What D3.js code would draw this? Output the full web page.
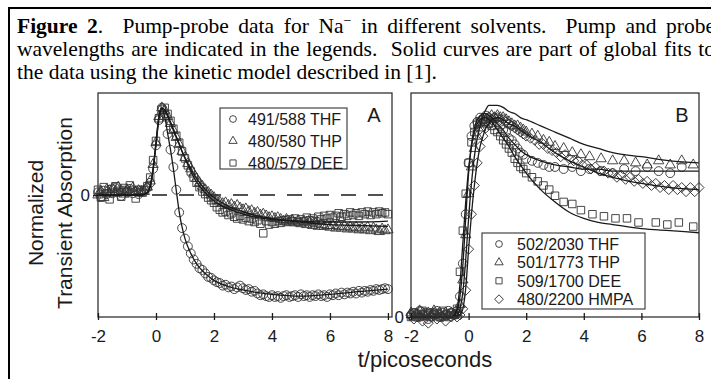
<!DOCTYPE html>
<html><head><meta charset="utf-8">
<script src="https://cdn.jsdelivr.net/npm/d3@7"></script>
<style>body{margin:0;background:#fff;} svg{display:block;}</style>
</head><body><svg id="c" width="711" height="379"></svg>
<script>
// ---------------- DATA ----------------
const xTicks = [-2, 0, 2, 4, 6, 8];
const yTicksA = [0];
const yTicksB = [0];

// Panel A (shared time grid, ps)
const tA = [-2.0,-1.9,-1.8,-1.7,-1.6,-1.5,-1.4,-1.3,-1.2,-1.1,-1.0,-0.9,-0.8,-0.7,-0.6,-0.5,-0.4,-0.3,-0.2,-0.1,
  0.0,0.1,0.2,0.3,0.4,0.5,0.6,0.7,0.8,0.9,1.0,1.1,1.2,1.3,1.4,1.5,1.6,1.7,1.8,1.9,2.0,2.1,2.2,2.3,2.4,2.5,2.6,2.7,2.8,2.9,
  3.0,3.1,3.2,3.3,3.4,3.5,3.6,3.7,3.8,3.9,4.0,4.1,4.2,4.3,4.4,4.5,4.6,4.7,4.8,4.9,5.0,5.1,5.2,5.3,5.4,5.5,5.6,5.7,5.8,5.9,
  6.0,6.1,6.2,6.3,6.4,6.5,6.6,6.7,6.8,6.9,7.0,7.1,7.2,7.3,7.4,7.5,7.6,7.7,7.8,7.9,8.0];
const thfA = [0.03,-0.02,0.05,0.01,0.06,0.02,0.08,0.04,-0.01,0.05,0.03,0.07,0.02,0.04,0.01,0.05,
  0.05,0.08,0.14,0.30,
  0.57,0.86,1.00,0.90,0.70,0.52,0.32,0.06,-0.20,-0.38,
  -0.50,-0.59,-0.67,-0.74,-0.79,-0.84,-0.86,-0.90,-0.94,-0.95,
  -0.98,-1.00,-1.01,-1.04,-1.03,-1.06,-1.05,-1.08,-1.06,-1.04,
  -1.07,-1.09,-1.08,-1.11,-1.10,-1.13,-1.15,-1.14,-1.16,-1.17,
  -1.15,-1.17,-1.16,-1.18,-1.16,-1.15,-1.17,-1.16,-1.15,-1.17,
  -1.14,-1.16,-1.15,-1.17,-1.15,-1.16,-1.14,-1.16,-1.15,-1.17,
  -1.14,-1.15,-1.13,-1.15,-1.12,-1.14,-1.12,-1.13,-1.11,-1.13,
  -1.10,-1.12,-1.10,-1.11,-1.09,-1.10,-1.08,-1.09,-1.08,-1.07,
  -1.08];
const thpA = [0.00,0.04,-0.03,0.06,0.02,0.07,0.03,0.09,0.05,0.01,0.06,0.04,0.08,0.03,0.05,0.02,
  0.04,0.09,0.16,0.35,
  0.60,0.90,1.00,0.97,0.90,0.82,0.74,0.66,0.58,0.50,
  0.43,0.36,0.30,0.24,0.19,0.14,0.10,0.06,0.03,0.00,
  -0.03,-0.06,-0.08,-0.10,-0.09,-0.12,-0.11,-0.14,-0.12,-0.15,
  -0.17,-0.16,-0.19,-0.18,-0.21,-0.20,-0.23,-0.22,-0.24,-0.26,
  -0.25,-0.27,-0.26,-0.28,-0.30,-0.28,-0.31,-0.29,-0.32,-0.30,
  -0.33,-0.31,-0.34,-0.32,-0.35,-0.33,-0.36,-0.34,-0.36,-0.35,
  -0.37,-0.35,-0.38,-0.36,-0.38,-0.36,-0.39,-0.37,-0.39,-0.37,
  -0.40,-0.38,-0.40,-0.37,-0.41,-0.38,-0.40,-0.42,-0.39,-0.41,
  -0.40];
const deeA = [0.06,-0.03,0.09,0.02,-0.05,0.07,0.10,0.03,-0.02,0.08,0.04,0.11,0.05,-0.04,0.06,0.03,
  0.06,0.10,0.20,0.40,
  0.62,0.88,0.98,1.00,0.93,0.85,0.76,0.68,0.60,0.50,
  0.42,0.34,0.27,0.20,0.14,0.09,0.04,0.01,-0.03,-0.06,
  -0.09,-0.14,-0.17,-0.20,-0.19,-0.23,-0.21,-0.25,-0.27,-0.24,
  -0.28,-0.26,-0.30,-0.27,-0.31,-0.29,-0.33,-0.44,-0.30,-0.34,
  -0.31,-0.33,-0.30,-0.32,-0.29,-0.31,-0.28,-0.30,-0.27,-0.31,
  -0.28,-0.30,-0.26,-0.29,-0.27,-0.30,-0.25,-0.28,-0.24,-0.27,
  -0.23,-0.26,-0.24,-0.21,-0.25,-0.22,-0.24,-0.20,-0.23,-0.21,
  -0.24,-0.20,-0.22,-0.19,-0.23,-0.20,-0.22,-0.19,-0.21,-0.20,
  -0.22];
// Panel A fits
const fitTA = [-2,-1,-0.5,-0.3,-0.2,-0.1,0,0.1,0.2,0.3,0.4,0.5,0.6,0.7,0.8,0.9,1.0,1.2,1.4,1.6,1.8,2.0,2.5,3,3.5,4,5,6,7,8];
const fitThfA = [0,0,0,0.03,0.1,0.28,0.57,0.86,0.99,0.9,0.71,0.52,0.3,0.05,-0.19,-0.37,-0.5,-0.67,-0.79,-0.87,-0.93,-0.98,-1.05,-1.09,-1.12,-1.14,-1.16,-1.14,-1.11,-1.08];
const fitThpA = [0,0,0,0.03,0.1,0.3,0.6,0.9,1.0,0.97,0.9,0.82,0.74,0.66,0.58,0.5,0.43,0.3,0.19,0.1,0.03,-0.03,-0.13,-0.19,-0.24,-0.27,-0.31,-0.34,-0.35,-0.36];
const fitDeeA = [0,0,0,0.03,0.1,0.3,0.6,0.9,1.0,0.98,0.92,0.84,0.76,0.67,0.59,0.5,0.42,0.27,0.15,0.06,-0.01,-0.07,-0.16,-0.22,-0.26,-0.28,-0.3,-0.31,-0.31,-0.3];

// Panel B
const tBearly = [-2.0,-1.9,-1.8,-1.7,-1.6,-1.5,-1.4,-1.3,-1.2,-1.1,-1.0,-0.9,-0.8,-0.7,-0.6,-0.5,-0.4,-0.3,-0.2,-0.1,
  0.0,0.1,0.2,0.3,0.4,0.5,0.6,0.7,0.8,0.9,1.0,1.1,1.2,1.3,1.4,1.5,1.6,1.7,1.8,1.9,2.0];
const tBthfLate = [2.2,2.4,2.6,2.8,3.0,3.3,3.6,3.9,4.2,4.6,5.0,5.4,5.8,6.2,6.6,7.0,7.4];
const tBthpLate = [2.2,2.4,2.6,2.8,3.0,3.3,3.6,3.9,4.2,4.6,5.0,5.4,5.8,6.2,6.6,7.0,7.4,7.8];
const tBdeeLate = [2.2,2.4,2.6,2.8,3.0,3.3,3.6,3.9,4.3,4.7,5.1,5.5,5.9,6.5,6.9,7.3,7.8];
const tBhmpaLate = [2.15,2.30,2.45,2.60,2.75,2.90,3.05,3.20,3.35,3.50,3.65,3.80,3.95,4.10,4.25,4.40,4.55,4.70,4.85,5.00,
  5.15,5.30,5.45,5.60,5.75,5.90,6.05,6.20,6.35,6.50,6.65,6.80,6.95,7.10,7.25,7.40,7.55,7.70,7.85,8.00];
const thfB = [0.01,0.02,0.00,0.03,0.01,0.02,-0.01,0.02,0.01,0.03,0.00,0.02,0.01,0.03,0.02,0.01,
  0.03,0.10,0.26,0.50,0.75,0.88,0.93,0.95,0.97,0.96,0.98,0.97,0.96,0.97,0.95,0.93,0.91,0.90,0.87,0.86,0.84,0.82,0.80,0.79,0.77,
  0.76,0.75,0.74,0.73,0.73,0.72,0.73,0.71,0.72,0.71,0.70,0.72,0.71,0.73,0.71,0.70,0.73];
const thpB = [0.02,0.00,0.01,0.03,0.02,0.00,0.02,0.01,0.03,0.01,0.02,0.00,0.02,0.01,0.02,0.01,
  0.02,0.06,0.18,0.40,0.60,0.73,0.82,0.88,0.92,0.94,0.96,0.97,0.98,0.97,0.98,0.97,0.97,0.96,0.95,0.94,0.93,0.93,0.92,0.91,0.90,
  0.89,0.88,0.86,0.85,0.83,0.82,0.80,0.79,0.78,0.77,0.76,0.76,0.75,0.74,0.76,0.74,0.76,0.74];
const deeB = [0.00,0.02,0.01,0.00,0.03,0.01,0.02,0.00,0.01,0.02,0.00,0.03,0.01,0.00,0.02,0.01,
  0.04,0.22,0.42,0.60,0.75,0.85,0.90,0.94,0.95,0.96,0.95,0.94,0.93,0.91,0.90,0.88,0.86,0.84,0.82,0.80,0.77,0.75,0.73,0.72,0.70,
  0.68,0.66,0.64,0.62,0.59,0.56,0.55,0.52,0.50,0.49,0.48,0.48,0.46,0.46,0.45,0.46,0.44];
const hmpaB = [0.01,-0.01,0.02,0.00,-0.02,0.01,-0.03,0.00,0.02,-0.01,0.01,0.00,-0.02,0.01,0.00,0.01,
  0.00,0.01,0.04,0.13,0.33,0.50,0.64,0.75,0.83,0.88,0.92,0.94,0.96,0.97,0.97,0.96,0.96,0.95,0.94,0.93,0.92,0.91,0.90,0.89,0.88,
  0.87,0.86,0.84,0.84,0.82,0.81,0.80,0.78,0.79,0.77,0.76,0.76,0.74,0.74,0.72,0.73,0.71,0.71,0.70,0.70,
  0.68,0.69,0.67,0.68,0.66,0.67,0.65,0.66,0.64,0.65,0.63,0.64,0.62,0.64,0.62,0.63,0.61,0.63,0.61,0.63];
// Panel B fits
const fitTB = [-2,-0.6,-0.4,-0.3,-0.2,-0.1,0,0.1,0.2,0.3,0.4,0.5,0.6,0.7,0.8,1.0,1.2,1.4,1.6,1.8,2.0,2.5,3,3.5,4,4.5,5,6,7,8];
const fitThfB = [0,0,0.03,0.1,0.25,0.48,0.7,0.84,0.92,0.96,0.98,0.99,0.99,0.98,0.97,0.94,0.91,0.87,0.84,0.81,0.79,0.76,0.74,0.73,0.72,0.72,0.71,0.71,0.71,0.71];
const fitThpB = [0,0,0.01,0.04,0.12,0.28,0.48,0.65,0.78,0.87,0.93,0.98,1.01,1.03,1.03,1.03,1.02,1.0,0.99,0.97,0.96,0.93,0.9,0.87,0.84,0.82,0.8,0.78,0.76,0.75];
const fitDeeB = [0,0,0.04,0.16,0.36,0.56,0.72,0.83,0.9,0.94,0.96,0.97,0.97,0.96,0.95,0.91,0.87,0.83,0.78,0.74,0.7,0.62,0.56,0.51,0.48,0.46,0.45,0.43,0.42,0.41];
const fitHmpaB = [0,0,0,0.01,0.04,0.14,0.33,0.5,0.64,0.75,0.83,0.88,0.92,0.94,0.96,0.97,0.96,0.94,0.93,0.91,0.89,0.85,0.8,0.76,0.73,0.7,0.68,0.65,0.63,0.62];

const legendA = ["491/588 THF", "480/580 THP", "480/579 DEE"];
const legendB = ["502/2030 THF", "501/1773 THP", "509/1700 DEE", "480/2200 HMPA"];
const captionLines = [
  ["*Figure", "*2|.", "", "Pump-probe", "data", "for", "Na^−", "in", "different", "solvents.", "", "Pump", "and", "probe"],
  ["wavelengths", "are", "indicated", "in", "the", "legends.", "", "Solid", "curves", "are", "part", "of", "global", "fits", "to"],
  ["the", "data", "using", "the", "kinetic", "model", "described", "in", "[1]."]
];
const xTitle = "t/picoseconds";
const yTitle = ["Normalized", "Transient Absorption"];

// ---------------- DRAW ----------------
const svg = d3.select('#c');
const INK = '#1a1a1a', SYM = '#333';
const SANS = "'Liberation Sans', Arial, Helvetica, sans-serif";
const SERIF = "'Liberation Serif', 'Times New Roman', serif";

// outer border
svg.append('line').attr('x1', 8).attr('x2', 711).attr('y1', 8).attr('y2', 8).attr('stroke', '#000').attr('stroke-width', 2);
svg.append('line').attr('x1', 9).attr('x2', 9).attr('y1', 7).attr('y2', 379).attr('stroke', '#000').attr('stroke-width', 2);

// caption (justified)
const capSize = 21.5, capX0 = 17, capX1 = 715, capY = [33, 56, 78.5];
captionLines.forEach((words, li) => {
  const items = [];
  let pendingExtra = 0;
  words.forEach(w => {
    if (w === "") { pendingExtra += 1; return; }
    const t = svg.append('text').attr('y', capY[li]).attr('font-family', SERIF).attr('font-size', capSize).attr('fill', '#000');
    let s = w, bold = false;
    if (s.startsWith('*')) { bold = true; s = s.slice(1); }
    if (s.includes('|')) {
      const [a, b] = s.split('|');
      t.append('tspan').attr('font-weight', 'bold').text(a);
      t.append('tspan').text(b);
    } else if (s.includes('^')) {
      const [a, b] = s.split('^');
      t.append('tspan').text(a);
      t.append('tspan').attr('dy', -8).attr('font-size', 14).text(b);
    } else {
      t.append('tspan').attr('font-weight', bold ? 'bold' : 'normal').text(s);
    }
    items.push({ node: t, w: t.node().getComputedTextLength(), gap: items.length ? 1 + pendingExtra : 0 });
    pendingExtra = 0;
  });
  const total = d3.sum(items, d => d.w);
  const units = d3.sum(items, d => d.gap);
  const justify = li < captionLines.length - 1;
  const gw = justify ? (capX1 - capX0 - total) / units : capSize * 0.25;
  let x = capX0;
  items.forEach(it => { x += it.gap * gw; it.node.attr('x', x); x += it.w; });
});

// scales
const xA = d3.scaleLinear().domain([-2, 8.14]).range([98, 392]);
const yA = d3.scaleLinear().domain([-1.4, 1.17]).range([317, 93]);
const xB = d3.scaleLinear().domain([-2, 8]).range([411, 699]);
const yB = d3.scaleLinear().domain([0, 1.09]).range([317, 93]);

function frame(x, y) {
  const [x0, x1] = x.range(), [y0, y1] = y.range();
  svg.append('rect').attr('x', x0).attr('y', y1).attr('width', x1 - x0).attr('height', y0 - y1)
    .attr('fill', 'none').attr('stroke', '#333').attr('stroke-width', 1.3);
}
function axes(x, y, yTicks, yPad) {
  const [y0] = y.range();
  const gx = svg.append('g').attr('transform', `translate(0,${y0})`)
    .call(d3.axisBottom(x).tickValues(xTicks).tickFormat(d => String(d)).tickSizeInner(3).tickSizeOuter(0).tickPadding(10));
  gx.select('.domain').remove();
  gx.selectAll('.tick line').attr('y1', -4).attr('y2', 3).attr('stroke', INK).attr('stroke-width', 1.3);
  gx.selectAll('.tick text').attr('font-family', SANS).attr('font-size', 17).attr('fill', INK);
  const [x0] = x.range();
  const gy = svg.append('g').attr('transform', `translate(${x0},0)`)
    .call(d3.axisLeft(y).tickValues(yTicks).tickFormat(d => String(d)).tickSizeInner(5).tickSizeOuter(0).tickPadding(yPad));
  gy.select('.domain').remove();
  gy.selectAll('.tick line').attr('stroke', INK).attr('stroke-width', 1.3);
  gy.selectAll('.tick text').attr('font-family', SANS).attr('font-size', 17).attr('fill', INK);
}

const symCircle = d3.symbol().type(d3.symbolCircle).size(62)();
const symTri = d3.symbol().type(d3.symbolTriangle).size(46)();
const symSq = d3.symbol().type(d3.symbolSquare).size(56)();
const symDia = d3.symbol().type(d3.symbolSquare).size(50)();
const legCircle = d3.symbol().type(d3.symbolCircle).size(36)();
const legTri = d3.symbol().type(d3.symbolTriangle).size(30)();
const legSq = d3.symbol().type(d3.symbolSquare).size(38)();
const legDia = d3.symbol().type(d3.symbolSquare).size(38)();

function points(x, y, ts, vs, path, rot) {
  svg.append('g').selectAll('path').data(d3.zip(ts, vs)).join('path')
    .attr('transform', d => `translate(${x(d[0])},${y(d[1])})${rot ? ' rotate(45)' : ''}`)
    .attr('d', path).attr('fill', 'none').attr('stroke', SYM).attr('stroke-width', 0.9);
}
function fit(x, y, ts, vs) {
  svg.append('path').datum(d3.zip(ts, vs))
    .attr('d', d3.line().x(d => x(d[0])).y(d => y(d[1])).curve(d3.curveMonotoneX))
    .attr('fill', 'none').attr('stroke', INK).attr('stroke-width', 1.3);
}

// ---- Panel A ----
svg.append('line').attr('x1', xA.range()[0]).attr('x2', xA.range()[1]).attr('y1', yA(0)).attr('y2', yA(0))
  .attr('stroke', INK).attr('stroke-width', 1.3).attr('stroke-dasharray', '15,12');
points(xA, yA, tA, deeA, symSq);
points(xA, yA, tA, thpA, symTri);
points(xA, yA, tA, thfA, symCircle);
fit(xA, yA, fitTA, fitDeeA);
fit(xA, yA, fitTA, fitThpA);
fit(xA, yA, fitTA, fitThfA);
frame(xA, yA);
axes(xA, yA, yTicksA, 3);
svg.append('text').attr('x', 374).attr('y', 122).attr('text-anchor', 'middle')
  .attr('font-family', SANS).attr('font-size', 20).attr('fill', INK).text('A');

// legend A
const lgA = svg.append('g');
lgA.append('rect').attr('x', 220).attr('y', 108).attr('width', 127).attr('height', 61)
  .attr('fill', '#fff').attr('stroke', '#333').attr('stroke-width', 1.1);
const legSymsA = [legCircle, legTri, legSq];
legendA.forEach((s, i) => {
  const cy = 119 + i * 22;
  lgA.append('path').attr('transform', `translate(233,${cy})`).attr('d', legSymsA[i])
    .attr('fill', 'none').attr('stroke', SYM).attr('stroke-width', 0.9);
  lgA.append('text').attr('x', 248).attr('y', cy + 6).attr('font-family', SANS).attr('font-size', 16).attr('fill', INK).text(s);
});

// ---- Panel B ----
points(xB, yB, tBearly.concat(tBdeeLate), deeB, symSq);
points(xB, yB, tBearly.concat(tBhmpaLate), hmpaB, symDia, true);
points(xB, yB, tBearly.concat(tBthpLate), thpB, symTri);
points(xB, yB, tBearly.concat(tBthfLate), thfB, symCircle);
fit(xB, yB, fitTB, fitDeeB);
fit(xB, yB, fitTB, fitHmpaB);
fit(xB, yB, fitTB, fitThpB);
fit(xB, yB, fitTB, fitThfB);
frame(xB, yB);
axes(xB, yB, yTicksB, 2);
svg.append('text').attr('x', 682).attr('y', 122).attr('text-anchor', 'middle')
  .attr('font-family', SANS).attr('font-size', 20).attr('fill', INK).text('B');

// legend B
const lgB = svg.append('g');
lgB.append('rect').attr('x', 482).attr('y', 233).attr('width', 163).attr('height', 76)
  .attr('fill', '#fff').attr('stroke', '#333').attr('stroke-width', 1.1);
const legSymsB = [[legCircle, false], [legTri, false], [legSq, false], [legDia, true]];
legendB.forEach((s, i) => {
  const cy = 244 + i * 18.4;
  lgB.append('path').attr('transform', `translate(499,${cy})${legSymsB[i][1] ? ' rotate(45)' : ''}`).attr('d', legSymsB[i][0])
    .attr('fill', 'none').attr('stroke', SYM).attr('stroke-width', 0.9);
  lgB.append('text').attr('x', 517).attr('y', cy + 6).attr('font-family', SANS).attr('font-size', 16).attr('fill', INK).text(s);
});

// axis titles
svg.append('text').attr('x', 425).attr('y', 367).attr('text-anchor', 'middle')
  .attr('font-family', SANS).attr('font-size', 22).attr('fill', INK).text(xTitle);
yTitle.forEach((s, i) => {
  svg.append('text').attr('transform', `translate(${43 + i * 29},213) rotate(-90)`).attr('text-anchor', 'middle')
    .attr('font-family', SANS).attr('font-size', 21).attr('fill', INK).text(s);
});
</script></body></html>
